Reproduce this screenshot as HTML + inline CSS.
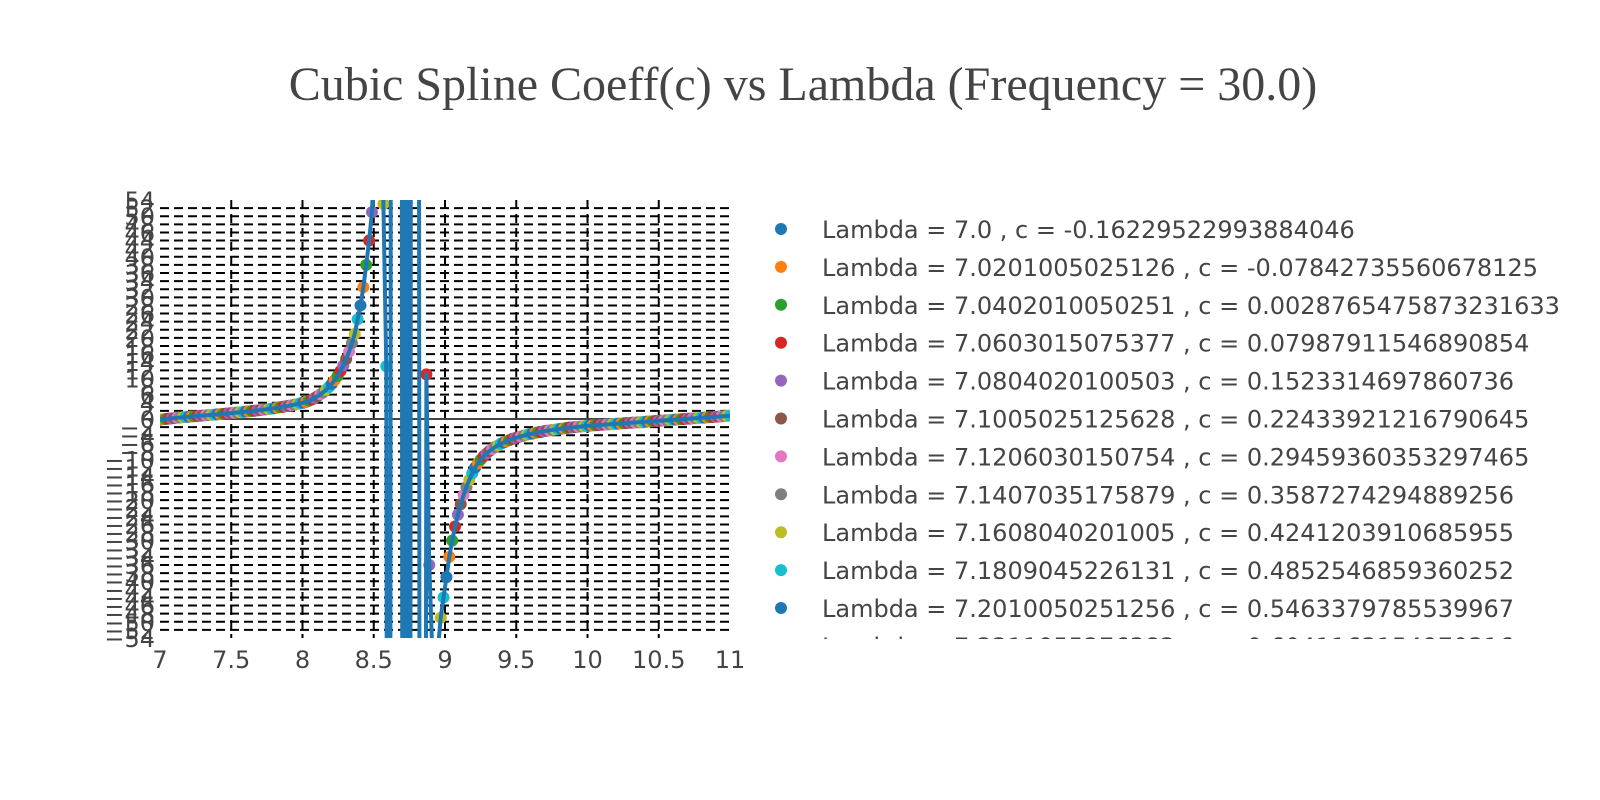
<!DOCTYPE html>
<html><head><meta charset="utf-8">
<style>
html,body{margin:0;padding:0;background:#fff;width:1600px;height:800px;overflow:hidden;}
svg{display:block;}
text{font-family:"DejaVu Sans","Liberation Sans",sans-serif;fill:#444;}
</style></head>
<body>
<svg id="chart" width="1600" height="800" overflow="hidden">
<text x="803" y="100" text-anchor="middle" style="font-family:'Liberation Serif',serif;font-size:48px;fill:#444">Cubic Spline Coeff(c) vs Lambda (Frequency = 30.0)</text>
<defs><clipPath id="plotclip"><rect x="160" y="200" width="570" height="438"/></clipPath>
<clipPath id="legclip"><rect x="740" y="190" width="860" height="449"/></clipPath></defs>
<g id="grid"></g>
<g id="yticks"></g>
<g id="xticks"></g>
<g id="plot" clip-path="url(#plotclip)"></g>
<g id="legend" clip-path="url(#legclip)"></g>
</svg>
<script>
const cValues = [
-0.16229522993884046,-0.07842735560678125,0.0028765475873231633,0.07987911546890854,0.1523314697860736,0.22433921216790645,0.29459360353297465,0.3587274294889256,0.4241203910685955,0.4852546859360252,0.5463379785539967,
0.61,0.67,0.73,0.79,0.85,0.91,0.97,1.03,1.09,1.15,1.21,1.27,1.33,1.40,
1.46,1.53,1.60,1.67,1.74,1.81,1.88,1.96,2.04,2.12,2.20,2.29,2.38,2.47,2.57,2.67,2.78,2.89,3.01,3.13,3.26,3.40,3.55,3.71,3.88,
4.0,4.2,4.5,4.8,5.2,5.6,6.1,6.6,7.2,7.9,8.7,9.6,10.6,11.8,13.2,14.8,16.6,18.7,
21,24.6,28,32.5,38,44,51,
70,120,300,53,13,-3000,3000,3000,3000,3000,-3000,3000,-3000,3000,3000,3000,-3000,-3000,11,-36,
-56,-62,-57,-49,-44,-39,-34,-30,-26.5,-23.6,-21,-18.7,-16.8,-15,-13.4,
-12,-10.9,-10,-9.2,-8.5,-7.9,-7.4,-6.9,-6.5,-6.1,-5.8,-5.5,-5.2,-4.9,-4.7,-4.5,-4.3,-4.1,-3.9,-3.7,-3.6,-3.4,-3.3,-3.2,-3.0,-2.9,-2.8,-2.7,-2.6,-2.5,-2.4,-2.3,-2.2,-2.1,-2.05,-2.0,-1.9,-1.85,-1.8,-1.7,
-1.65,-1.6,-1.55,-1.5,-1.45,-1.4,-1.35,-1.3,-1.25,-1.2,-1.15,-1.1,-1.05,-1.0,-0.95,-0.9,-0.85,-0.8,-0.75,-0.7,-0.65,-0.6,-0.55,-0.5,-0.45,-0.4,-0.35,-0.3,-0.25,-0.2,-0.15,-0.1,-0.05,0,0.05,0.1,0.15,0.2,0.25,0.3,0.35,0.4,0.45,0.5,0.55,0.6,0.65,0.7,0.75,0.8
];
const lambdaStart = 7.0;
const lambdaEnd = 11.0;
const xTickValues = [7,7.5,8,8.5,9,9.5,10,10.5,11];
const xTickLabels = ["7","7.5","8","8.5","9","9.5","10","10.5","11"];
const yMin = -54, yMax = 54, yStep = 2;
const legendLambdas = ["7.0","7.0201005025126","7.0402010050251","7.0603015075377","7.0804020100503","7.1005025125628","7.1206030150754","7.1407035175879","7.1608040201005","7.1809045226131","7.2010050251256","7.2211055276382"];
const legendCs = ["-0.16229522993884046","-0.07842735560678125","0.0028765475873231633","0.07987911546890854","0.1523314697860736","0.22433921216790645","0.29459360353297465","0.3587274294889256","0.4241203910685955","0.4852546859360252","0.5463379785539967","0.6041163154970316"];
const palette = ["#1f77b4","#ff7f0e","#2ca02c","#d62728","#9467bd","#8c564b","#e377c2","#7f7f7f","#bcbd22","#17becf"];

const NS="http://www.w3.org/2000/svg";
const X0=160,X1=730,Y0=638,Y1=200;
function xs(v){return X0+(v-lambdaStart)/(lambdaEnd-lambdaStart)*(X1-X0);}
function ys(v){return Y0-(v-yMin)/(yMax-yMin)*(Y0-Y1);}
function mk(tag,attrs,parent){const e=document.createElementNS(NS,tag);for(const k in attrs)e.setAttribute(k,attrs[k]);parent.appendChild(e);return e;}
const n=cValues.length;
const lambdas=cValues.map((_,i)=>lambdaStart+i*(lambdaEnd-lambdaStart)/(n-1));

const grid=document.getElementById('grid');
for(let v=yMin+yStep;v<yMax;v+=yStep){
  if(v===0)continue;
  const l=mk('line',{x1:X0,x2:X1,y1:ys(v),y2:ys(v),stroke:'#000','stroke-width':2,'stroke-dasharray':'9,5'},grid);
  
  
}
xTickValues.forEach(v=>{
  if(v===lambdaStart||v===lambdaEnd)return;
  const l=mk('line',{x1:xs(v),x2:xs(v),y1:Y1,y2:Y0,stroke:'#000','stroke-width':2,'stroke-dasharray':'9,5'},grid);
  
  
});
const z=mk('line',{x1:X0,x2:X1,y1:ys(0),y2:ys(0),stroke:'#444','stroke-width':2},grid);



const yt=document.getElementById('yticks');
for(let v=yMin;v<=yMax;v+=yStep){
  const t=mk('text',{x:155,y:ys(v)+9,'text-anchor':'end','font-size':24},yt);
  t.textContent=v<0?'\u2212'+Math.abs(v):String(v);
  
  
}
const xt=document.getElementById('xticks');
xTickValues.forEach((v,i)=>{
  const t=mk('text',{x:xs(v),y:668,'text-anchor':'middle','font-size':24},xt);
  t.textContent=xTickLabels[i];
  
  
});

const plot=document.getElementById('plot');
cValues.forEach((c,i)=>{
  const cy=ys(c);
  if(cy<Y1-20||cy>Y0+20)return;
  const m=mk('circle',{cx:xs(lambdas[i]),cy:cy,r:6,fill:palette[i%10]},plot);
  
  
});
const d=cValues.map((c,i)=>(i?'L':'M')+xs(lambdas[i]).toFixed(2)+','+Math.max(-1500,Math.min(2300,ys(c))).toFixed(2)).join('');
const line=mk('path',{d:d,fill:'none',stroke:'#1f77b4','stroke-width':4,'stroke-linejoin':'round'},plot);



const leg=document.getElementById('legend');
legendLambdas.forEach((lam,i)=>{
  const y=229+i*37.9;
  const g=mk('g',{},leg);
  
  
  mk('circle',{cx:781,cy:y,r:6,fill:palette[i%10]},g);
  const t=mk('text',{x:822,y:y+9,'font-size':24},g);
  t.textContent='Lambda = '+lam+' , c = '+legendCs[i];
});
</script>
</body></html>
